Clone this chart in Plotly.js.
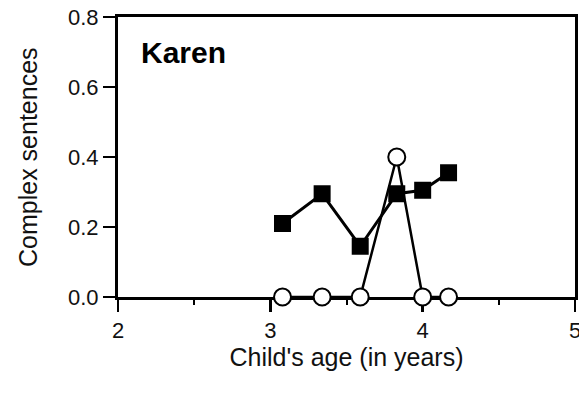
<!DOCTYPE html>
<html>
<head>
<meta charset="utf-8">
<script src="https://cdn.plot.ly/plotly-3.0.1.min.js"></script>
<style>html,body{margin:0;padding:0;background:#fff;}#chart{width:579px;height:398px;}</style>
</head>
<body>
<div id="chart"></div>
<script>
var ages = [3.08, 3.34, 3.59, 3.83, 4.0, 4.17];
var filledSeries = [0.21, 0.295, 0.145, 0.295, 0.305, 0.355];
var openSeries = [0.0, 0.0, 0.0, 0.40, 0.0, 0.0];
var yTicks = [0.0, 0.2, 0.4, 0.6, 0.8];
var xTicks = [2, 3, 4, 5];
var childName = 'Karen';
var xTitle = "Child's age (in years)";
var yTitle = 'Complex sentences';

var font = 'Liberation Sans, Arial, sans-serif';

var traces = [
  {
    x: ages, y: openSeries, type: 'scatter', mode: 'lines+markers', cliponaxis: false,
    line: {color: '#000', width: 2.5},
    marker: {symbol: 'circle', size: 17, color: '#fff', line: {color: '#000', width: 2}},
    showlegend: false
  },
  {
    x: ages, y: filledSeries, type: 'scatter', mode: 'lines+markers', cliponaxis: false,
    line: {color: '#000', width: 3},
    marker: {symbol: 'square', size: 17, color: '#000', line: {color: '#000', width: 0}},
    showlegend: false
  }
];

var layout = {
  width: 579, height: 398,
  margin: {l: 118, r: 4, t: 17, b: 101},
  paper_bgcolor: '#fff', plot_bgcolor: '#fff',
  font: {family: font, color: '#111', size: 22},
  showlegend: false,
  xaxis: {
    range: [2, 5], tickmode: 'array', tickvals: xTicks, ticktext: xTicks.map(String),
    ticks: 'outside', ticklen: 12, tickwidth: 2.5, tickcolor: '#000',
    showline: true, linecolor: '#000', linewidth: 3, mirror: true,
    showgrid: false, zeroline: false, layer: 'below traces',
    ticklabeloverflow: 'allow',
    minor: {dtick: 0.5, tick0: 2, ticks: 'outside', ticklen: 5, tickwidth: 2, tickcolor: '#000', showgrid: false},
    tickfont: {size: 22, family: font, color: '#111'},
    title: {text: xTitle, font: {size: 25, family: font, color: '#111'}, standoff: 7}
  },
  yaxis: {
    range: [0, 0.8], tickmode: 'array', tickvals: yTicks, ticktext: yTicks.map(function(v){return v.toFixed(1);}),
    ticks: 'outside', ticklen: 12, tickwidth: 2.5, tickcolor: '#000',
    showline: true, linecolor: '#000', linewidth: 3, mirror: true,
    showgrid: false, zeroline: false, layer: 'below traces',
    tickfont: {size: 22, family: font, color: '#111'}
  },
  annotations: [
    {
      text: '<b>' + childName + '</b>', xref: 'paper', yref: 'paper',
      x: 0.045, y: 0.875, xanchor: 'left', yanchor: 'middle', showarrow: false,
      font: {size: 30, family: font, color: '#000'}
    },
    {
      text: yTitle, xref: 'paper', yref: 'paper', textangle: -90,
      x: -0.197, y: 0.5, xanchor: 'center', yanchor: 'middle', showarrow: false,
      font: {size: 25, family: font, color: '#111'}
    }
  ]
};

Plotly.newPlot('chart', traces, layout, {displayModeBar: false, staticPlot: true});
</script>
</body>
</html>
